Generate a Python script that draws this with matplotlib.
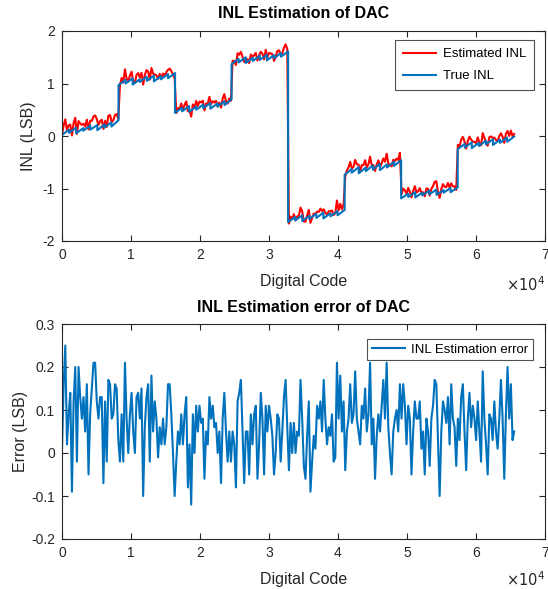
import numpy as np
import matplotlib
matplotlib.use("Agg")
import matplotlib.pyplot as plt

plt.rcParams['font.family'] = ['Liberation Sans', 'DejaVu Sans']

# ---------------- data ----------------
# True INL: start / end value of each 1024-code sub-block (8 segments x 8 sub-blocks)
true_start = [
    0.02, 0.06, 0.05, 0.10, 0.12, 0.11, 0.16, 0.18,
    0.97, 1.00, 0.98, 1.03, 1.05, 1.04, 1.08, 1.10,
    0.44, 0.47, 0.46, 0.50, 0.53, 0.52, 0.56, 0.59,
    1.37, 1.40, 1.39, 1.43, 1.45, 1.44, 1.48, 1.51,
    -1.64, -1.61, -1.62, -1.58, -1.56, -1.57, -1.53, -1.51,
    -0.74, -0.70, -0.71, -0.67, -0.64, -0.65, -0.60, -0.57,
    -1.19, -1.16, -1.17, -1.13, -1.11, -1.12, -1.08, -1.07,
    -0.25, -0.22, -0.23, -0.19, -0.16, -0.17, -0.13, -0.11,
]
true_end = [
    0.12, 0.16, 0.15, 0.20, 0.21, 0.22, 0.26, 0.30,
    1.07, 1.10, 1.08, 1.13, 1.15, 1.14, 1.18, 1.20,
    0.54, 0.57, 0.56, 0.60, 0.63, 0.62, 0.66, 0.70,
    1.47, 1.50, 1.49, 1.53, 1.55, 1.54, 1.58, 1.61,
    -1.54, -1.51, -1.52, -1.48, -1.46, -1.47, -1.43, -1.41,
    -0.63, -0.59, -0.60, -0.56, -0.53, -0.54, -0.49, -0.46,
    -1.10, -1.07, -1.08, -1.04, -1.02, -1.03, -0.99, -0.98,
    -0.15, -0.12, -0.13, -0.09, -0.06, -0.07, -0.03, -0.01,
]
sub_block = 1024
n_codes = 65536

# INL estimation error (LSB), read left to right across the code range
err = [
    0.01, 0.16, 0.25, 0.02, 0.09, 0.14, -0.09, 0.12, 0.20, -0.02,
    0.20, 0.13, 0.08, 0.13, 0.05, 0.16, -0.05, 0.09, 0.15, 0.21,
    0.21, 0.12, 0.08, 0.13, 0.13, -0.07, 0.12, -0.02, 0.17, 0.16,
    0.08, 0.09, 0.16, 0.15, 0.03, -0.02, 0.09, -0.02, 0.21, 0.08,
    0.00, 0.09, 0.14, 0.05, 0.00, 0.13, 0.14, 0.08, 0.15, -0.10,
    0.06, 0.13, 0.16, -0.02, 0.18, 0.05, 0.12, 0.08, -0.01, 0.06,
    0.02, 0.08, 0.02, 0.06, 0.16, 0.16, 0.09, 0.00, -0.10, -0.02,
    0.05, 0.02, 0.09, 0.02, 0.09, 0.13, -0.08, 0.02, -0.12, 0.09,
    0.00, 0.11, 0.05, 0.11, 0.07, 0.08, -0.06, 0.05, 0.02, 0.13,
    0.08, 0.11, 0.06, 0.07, 0.00, 0.05, -0.07, 0.08, 0.14, 0.05,
    -0.02, 0.05, -0.02, 0.05, 0.02, -0.08, 0.12, 0.14, 0.17, 0.05,
    -0.07, 0.05, 0.05, -0.05, 0.09, 0.02, 0.09, 0.11, -0.06, 0.02,
    0.14, 0.08, -0.05, 0.11, 0.05, 0.11, 0.08, 0.04, -0.05, 0.00,
    0.09, 0.08, -0.02, 0.05, 0.13, 0.17, 0.06, -0.04, 0.07, 0.00,
    0.07, 0.00, 0.05,
    0.04, 0.17, 0.08, -0.03, -0.06, 0.04, 0.12, -0.09, -0.02, 0.04,
    0.01, 0.11, 0.08, 0.12, 0.05, 0.17, 0.08, 0.02, 0.06, 0.04,
    0.09, -0.02, -0.01, 0.21, 0.08, 0.18, 0.05, 0.12, -0.04, 0.05,
    0.08, 0.16, 0.07, 0.09, 0.19, 0.08, 0.05, 0.02, 0.11, 0.08,
    0.15, 0.05, 0.09, 0.21, 0.02, 0.08, -0.06, 0.04, 0.09, 0.05,
    0.11, 0.17, 0.08, 0.21, 0.06, 0.00, -0.05, 0.05, 0.08, 0.10,
    0.05, 0.16, 0.08, 0.16, 0.11, 0.02, 0.11, 0.08, -0.05, 0.05,
    0.12, 0.08,
    0.08, 0.12, 0.01, 0.05, -0.05, 0.08, 0.05, -0.03, 0.08, 0.11,
    0.17, 0.16, 0.03, -0.10, 0.05, 0.12, 0.10, 0.07, 0.13, 0.02,
    0.16, 0.08, 0.06, -0.03, 0.08, 0.03, 0.13, 0.16, 0.05, -0.04,
    0.08, 0.14, 0.06, 0.11, 0.08, 0.03, 0.12, 0.05, -0.02, 0.19,
    0.08, 0.02, -0.05, 0.09, 0.08, 0.03, 0.12, 0.05, 0.01, 0.08,
    0.17, 0.08, -0.06, 0.09, 0.20, 0.08, 0.16, 0.03, 0.05,
]

x_ticks = [0, 1, 2, 3, 4, 5, 6, 7]
inl_yticks = [-2, -1, 0, 1, 2]
err_yticks = [-0.2, -0.1, 0, 0.1, 0.2, 0.3]

# ---------------- build plotted series ----------------
n_sb = len(true_start)
true_code = np.ravel(np.column_stack([np.arange(n_sb) * sub_block,
                                      np.arange(n_sb) * sub_block + sub_block - 1]))
true_inl = np.ravel(np.column_stack([true_start, true_end]))
err = np.asarray(err)
err_code = np.linspace(0, n_codes - 1, len(err))
est_inl = np.interp(err_code, true_code, true_inl) + err

# ---------------- figure ----------------
W, H = 548, 589
fig = plt.figure(figsize=(W / 100, H / 100), dpi=100)
txt = '#262626'
red = (1.0, 0.0, 0.0)
blue = '#0072BD'
LEFT, RIGHT = 62, 545

def px_axes(left, top, right, bottom):
    return fig.add_axes([left / W, 1 - bottom / H, (right - left) / W, (bottom - top) / H])

def style(ax, yticks, ylim, ylabels, exp_offset):
    ax.set_xlim(0, 70000)
    ax.set_ylim(*ylim)
    ax.set_xticks([t * 1e4 for t in x_ticks])
    ax.set_xticklabels([str(t) for t in x_ticks])
    ax.set_yticks(yticks)
    ax.set_yticklabels(ylabels)
    ax.tick_params(direction='in', length=4, width=0.8, top=True, right=True,
                   labelsize=10, colors=txt, pad=5)
    for s in ax.spines.values():
        s.set_color(txt)
        s.set_linewidth(0.8)
    ax.set_xlabel('Digital Code', fontsize=11.5, color=txt, labelpad=9)
    ax.annotate(r'$\times10^{4}$', xy=(1.0, 0.0), xycoords='axes fraction',
                xytext=(0, exp_offset), textcoords='offset pixels',
                ha='right', va='top', fontsize=10.5, color=txt)

def px_frac_x(px):
    return (px - LEFT) / (RIGHT - LEFT)

# Top axes
ax1 = px_axes(LEFT, 31, RIGHT, 241)
ax1.plot(err_code, est_inl, color=red, lw=1.5, label='Estimated INL')
ax1.plot(true_code, true_inl, color=blue, lw=1.5, label='True INL')
style(ax1, inl_yticks, (-2, 2), [str(t) for t in inl_yticks], -34)
ax1.set_ylabel('INL (LSB)', fontsize=11.5, color=txt, labelpad=5)
ax1.set_title('INL Estimation of DAC', fontsize=11.5, fontweight='bold', color='black', pad=9)
leg1 = ax1.legend(loc='upper right', bbox_to_anchor=(px_frac_x(534), (241 - 40) / 210),
                  borderaxespad=0, fontsize=9.5,
                  frameon=True, fancybox=False, edgecolor=txt, handlelength=2.5,
                  borderpad=0.6, labelspacing=0.75, handletextpad=0.5)
leg1.get_frame().set_linewidth(0.8)

# Bottom axes
ax2 = px_axes(LEFT, 324, RIGHT, 539)
ax2.plot(err_code, err, color=blue, lw=1.5, label='INL Estimation error')
style(ax2, err_yticks, (-0.2, 0.3), ['-0.2', '-0.1', '0', '0.1', '0.2', '0.3'], -31)
ax2.set_ylabel('Error (LSB)', fontsize=11.5, color=txt, labelpad=2)
ax2.set_title('INL Estimation error of DAC', fontsize=11.5, fontweight='bold', color='black', pad=9)
leg2 = ax2.legend(loc='upper right', bbox_to_anchor=(px_frac_x(533), (539 - 339) / 215),
                  borderaxespad=0, fontsize=9.5,
                  frameon=True, fancybox=False, edgecolor=txt, handlelength=2.5,
                  borderpad=0.35, handletextpad=0.5)
leg2.get_frame().set_linewidth(0.8)

fig.savefig('out.png', dpi=100)
